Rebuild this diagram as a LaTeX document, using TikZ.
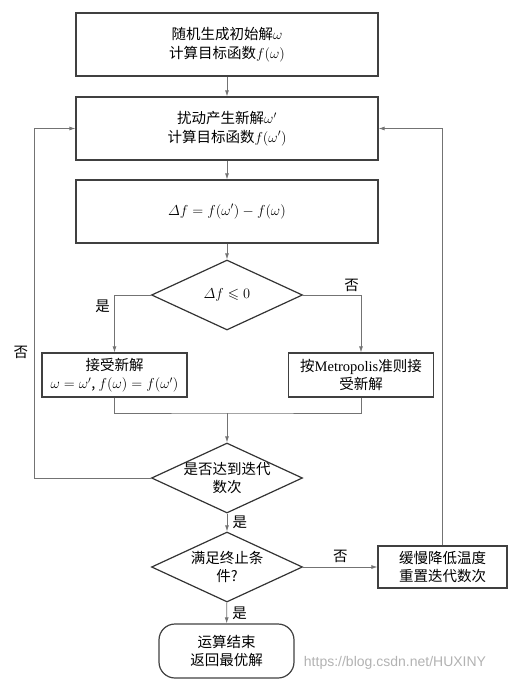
\documentclass[tikz,border=0pt]{standalone}
\usepackage{amsmath,amssymb}
\usepackage{fontspec}
\setmainfont{Noto Sans CJK SC}
\newfontfamily\latin{Liberation Serif}
\newfontfamily\wmfont{Liberation Sans}
\usetikzlibrary{arrows.meta,positioning,shapes.geometric}
\tikzset{>={Latex[length=6pt,width=4pt]}}
\tikzset{procbox/.style={draw=black!75, line width=1.2pt, rectangle, align=center, inner sep=2pt}}
\tikzset{decide/.style={draw=black!80, line width=1.2pt, diamond, aspect=2, inner sep=-3pt, align=center, minimum width=151pt, minimum height=70pt}}
\tikzset{flow/.style={draw=black!55, line width=0.8pt}}

\begin{document}
\begin{tikzpicture}[x=1pt,y=-1pt,font=\fontsize{14.5}{18.5}\selectfont]
      \useasboundingbox (0,0) rectangle (509,681);
      \node[procbox, minimum width=302pt, minimum height=63pt] (init) at (227,44.5)
        {随机生成初始解$\omega$\\计算目标函数$f(\omega)$};
      \node[procbox, minimum width=302pt, minimum height=63pt] (perturb) at (227,128.5)
        {扰动产生新解$\omega'$\\计算目标函数$f(\omega')$};
      \node[procbox, minimum width=302pt, minimum height=63pt] (delta) at (227,211.5)
        {$\varDelta f=f(\omega')-f(\omega)$};
      \node[decide] (cmp) at (227,295) {$\varDelta f\leqslant 0$};
      \node[procbox, minimum width=145pt, minimum height=44pt] (accept) at (114.5,375)
        {接受新解\\$\omega=\omega'$, $f(\omega)=f(\omega')$};
      \node[procbox, minimum width=145pt, minimum height=44pt] (metro) at (361,375)
        {按{\latin Metropolis}准则接\\受新解};
      \node[decide] (iter) at (227,478) {是否达到迭代\\数次};
      \node[decide] (stop) at (227,567) {满足终止条\\件?};
      \node[procbox, minimum width=129pt, minimum height=42pt] (cool) at (442.5,567)
        {缓慢降低温度\\重置迭代数次};
      \node[procbox, rounded corners=16pt, minimum width=135pt, minimum height=54pt] (done) at (226.5,651)
        {运算结束\\返回最优解};
      \coordinate (merge) at (227,413);

      \draw[flow,->] (init) -- (perturb);
      \draw[flow,->] (perturb) -- (delta);
      \draw[flow,->] (delta) -- (cmp);
      \draw[flow,->] (cmp.west) -| node[pos=0.6, left=1pt] {是} (accept.north);
      \draw[flow,->] (cmp.east) -| node[pos=0.42, above] {否} (metro.north);
      \draw[flow] (accept.south) |- (merge) -| (metro.south);
      \draw[flow,->] (merge) -- (iter);
      \draw[flow,->] (iter.west) -- ++(-117,0) |- node[pos=0.18, left=2pt] {否} (perturb.west);
      \draw[flow,->] (iter) -- node[right=2pt] {是} (stop);
      \draw[flow,->] (stop) -- node[above=1pt] {否} (cool);
      \draw[flow,->] (stop) -- node[right=2pt] {是} (done);
      \draw[flow,->] (cool.north) |- (perturb.east);
      \node[text=black!30, font=\wmfont\fontsize{14}{16}\selectfont] (mark) at (395,663) {https://blog.csdn.net/HUXINY};
    \end{tikzpicture}
\end{document}
